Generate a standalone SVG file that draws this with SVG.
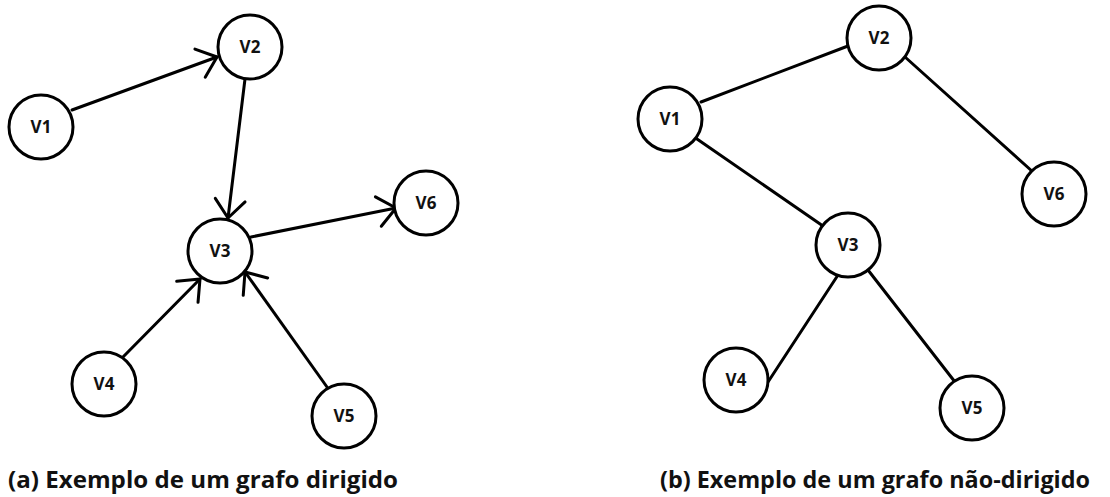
<svg xmlns="http://www.w3.org/2000/svg" width="1110" height="497" viewBox="0 0 1110 497">
  <style>
    .node circle { fill: #fff; stroke: #000; stroke-width: 3; }
    .node text { font-family: "Open Sans", "Liberation Sans", sans-serif; font-weight: bold; font-size: 17px; fill: #111; text-anchor: middle; }
    .edges line { stroke: #000; stroke-width: 3; stroke-linecap: round; }
    .caption { font-family: "Open Sans", "Liberation Sans", sans-serif; font-weight: bold; font-size: 23px; fill: #111; }
  </style>
  <defs>
    <marker id="arrow" markerUnits="userSpaceOnUse" markerWidth="30" markerHeight="36" viewBox="-22 -18 26 36" refX="0" refY="0" orient="auto">
      <path d="M-18,-15 L0,0 L-18,15" fill="none" stroke="#000" stroke-width="3" stroke-linecap="round" stroke-linejoin="round"/>
    </marker>
  </defs>
  <rect width="1110" height="497" fill="#fff"/>

  <!-- directed graph connectors -->
  <g id="edges-a" class="edges">
    <line x1="72" y1="110" x2="217" y2="57" marker-end="url(#arrow)"/>
    <line x1="245" y1="79" x2="228" y2="218" marker-end="url(#arrow)"/>
    <line x1="251" y1="237" x2="396" y2="208" marker-end="url(#arrow)"/>
    <line x1="123" y1="357" x2="200" y2="279" marker-end="url(#arrow)"/>
    <line x1="327" y1="387" x2="245" y2="272" marker-end="url(#arrow)"/>
  </g>

  <!-- undirected graph connectors -->
  <g id="edges-b" class="edges">
    <line x1="701" y1="102" x2="848" y2="46"/>
    <line x1="697" y1="139" x2="823" y2="226"/>
    <line x1="905" y1="57" x2="1033" y2="172"/>
    <line x1="838" y1="275" x2="768" y2="382"/>
    <line x1="868" y1="270" x2="955" y2="382"/>
  </g>

  <!-- directed graph nodes -->
  <g id="a-v1" class="node"><circle cx="41" cy="127" r="32"/><text x="41" y="133">V1</text></g>
  <g id="a-v2" class="node"><circle cx="250" cy="47" r="32"/><text x="250" y="53">V2</text></g>
  <g id="a-v3" class="node"><circle cx="220" cy="251" r="32"/><text x="220" y="257">V3</text></g>
  <g id="a-v4" class="node"><circle cx="104" cy="384" r="32"/><text x="104" y="390">V4</text></g>
  <g id="a-v5" class="node"><circle cx="344" cy="416" r="32"/><text x="344" y="422">V5</text></g>
  <g id="a-v6" class="node"><circle cx="426" cy="203" r="32"/><text x="426" y="209">V6</text></g>

  <!-- undirected graph nodes -->
  <g id="b-v1" class="node"><circle cx="670" cy="119" r="32"/><text x="670" y="125">V1</text></g>
  <g id="b-v2" class="node"><circle cx="879" cy="38" r="32"/><text x="879" y="44">V2</text></g>
  <g id="b-v3" class="node"><circle cx="848" cy="245" r="32"/><text x="848" y="251">V3</text></g>
  <g id="b-v4" class="node"><circle cx="736" cy="380" r="32"/><text x="736" y="386">V4</text></g>
  <g id="b-v5" class="node"><circle cx="972" cy="408" r="32"/><text x="972" y="414">V5</text></g>
  <g id="b-v6" class="node"><circle cx="1054" cy="194" r="32"/><text x="1054" y="200">V6</text></g>

  <!-- captions -->
  <text class="caption" x="8" y="488" textLength="390" lengthAdjust="spacingAndGlyphs">(a) Exemplo de um grafo dirigido</text>
  <text class="caption" x="660" y="488" textLength="430" lengthAdjust="spacingAndGlyphs">(b) Exemplo de um grafo não-dirigido</text>
</svg>
